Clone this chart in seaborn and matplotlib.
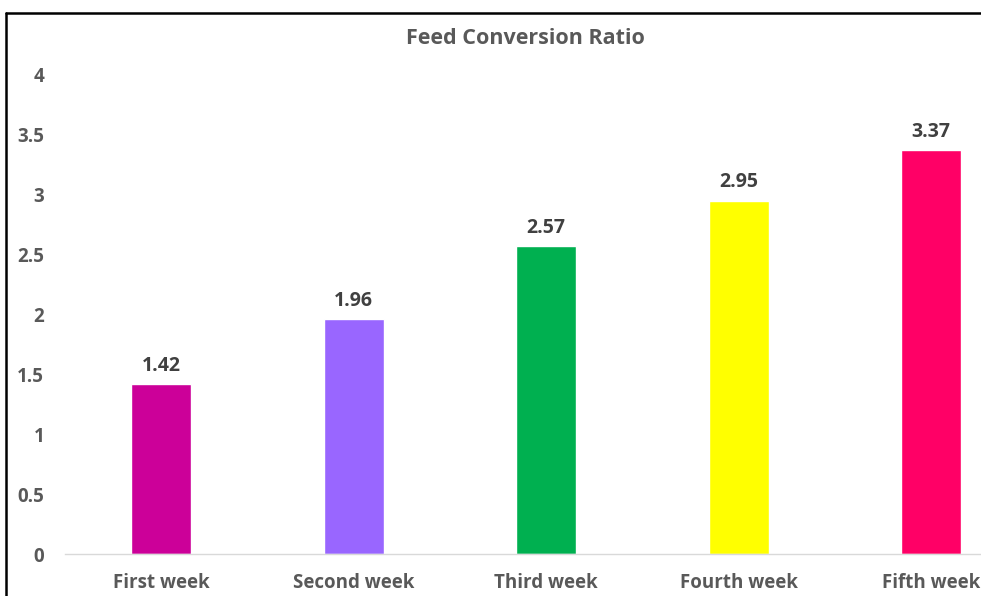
import matplotlib
matplotlib.use("Agg")
import matplotlib.pyplot as plt
import seaborn as sns
import pandas as pd
from matplotlib.lines import Line2D

categories = ["First week", "Second week", "Third week", "Fourth week", "Fifth week"]
values = [1.42, 1.96, 2.57, 2.95, 3.37]
colors = ["#CC0099", "#9966FF", "#00B050", "#FFFF00", "#FF0066"]
yticks = [0, 0.5, 1, 1.5, 2, 2.5, 3, 3.5, 4]
ytick_labels = ["0", "0.5", "1", "1.5", "2", "2.5", "3", "3.5", "4"]
title = "Feed Conversion Ratio"

sns.set_theme(style="white")
plt.rcParams['font.family'] = ['Open Sans', 'DejaVu Sans']

df = pd.DataFrame({"week": categories, "fcr": values})

fig = plt.figure(figsize=(9.81, 5.96), dpi=100)
ax = fig.add_axes([65/981, 42/596, 5*192.5/981, 479/596])

sns.barplot(data=df, x="week", y="fcr", hue="week", palette=colors,
            order=categories, hue_order=categories, legend=False,
            width=0.31, saturation=1, ax=ax)

ax.set_xlim(-0.5, 4.5)
ax.set_ylim(0, 4)
ax.set_yticks(yticks)
ax.set_yticklabels(ytick_labels)
ax.set_xlabel("")
ax.set_ylabel("")
for s in ["top", "right", "left"]:
    ax.spines[s].set_visible(False)
ax.spines["bottom"].set_color("#D9D9D9")
ax.spines["bottom"].set_linewidth(1)
ax.tick_params(axis="both", length=0, labelcolor="#595959", labelsize=13.5)
ax.tick_params(axis="y", pad=15)
ax.tick_params(axis="x", pad=14)
for lab in ax.get_xticklabels() + ax.get_yticklabels():
    lab.set_fontweight("bold")

for i, v in enumerate(values):
    ax.annotate(f"{v:.2f}", (i, v), xytext=(0, 6), textcoords="offset points",
                ha="center", va="bottom", fontsize=14, fontweight="bold", color="#404040")

fig.text(525/981, 1 - 39/596, title, ha="center", va="center", fontsize=15.5,
         fontweight="bold", color="#595959")

# chart frame (cropped on right and bottom)
fig.add_artist(Line2D([6/981, 6/981], [0, 1 - 13/596], transform=fig.transFigure,
                      color="black", lw=1.8))
fig.add_artist(Line2D([6/981, 1], [1 - 13/596, 1 - 13/596], transform=fig.transFigure,
                      color="black", lw=1.8))

fig.savefig("out.png", dpi=100)
